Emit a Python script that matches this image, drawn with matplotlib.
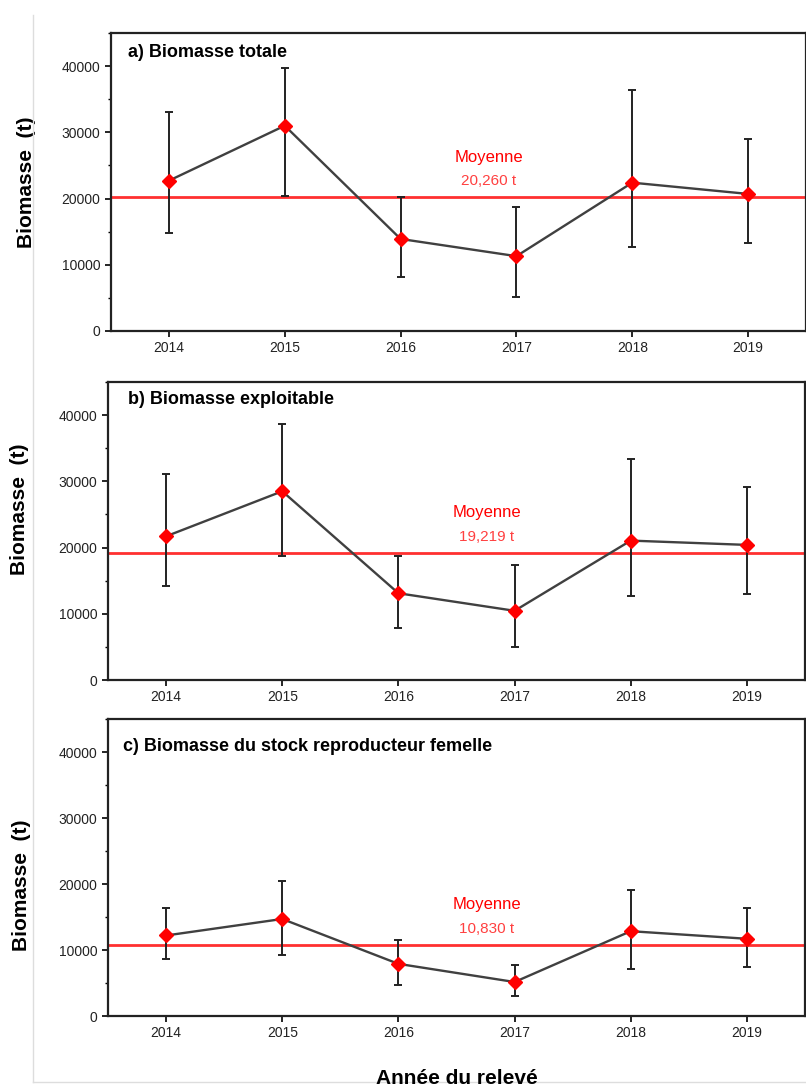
import matplotlib.pyplot as plt
from matplotlib.lines import Line2D
from matplotlib.ticker import MultipleLocator

plt.rcParams['font.family'] = ['Liberation Sans', 'DejaVu Sans']

years = [2014, 2015, 2016, 2017, 2018, 2019]

# a) Biomasse totale
tot_val = [22700, 31000, 13900, 11300, 22400, 20700]
tot_lo = [14800, 20400, 8150, 5100, 12700, 13300]
tot_hi = [33100, 39700, 20200, 18700, 36400, 29000]
tot_mean = 20260

# b) Biomasse exploitable
exp_val = [21700, 28500, 13100, 10450, 21050, 20400]
exp_lo = [14240, 18700, 7900, 5050, 12700, 13000]
exp_hi = [31170, 38700, 18800, 17300, 33400, 29100]
exp_mean = 19219

# c) Biomasse du stock reproducteur femelle
fem_val = [12200, 14700, 7900, 5150, 12850, 11700]
fem_lo = [8700, 9200, 4650, 3100, 7150, 7450]
fem_hi = [16400, 20400, 11500, 7700, 19150, 16400]
fem_mean = 10830

panels = [
    ("a) Biomasse totale", tot_val, tot_lo, tot_hi, tot_mean, "20,260 t"),
    ("b) Biomasse exploitable", exp_val, exp_lo, exp_hi, exp_mean, "19,219 t"),
    ("c) Biomasse du stock reproducteur femelle", fem_val, fem_lo, fem_hi, fem_mean, "10,830 t"),
]

W, H = 806, 1091
fig = plt.figure(figsize=(W / 100, H / 100), dpi=100)

# axes boxes in pixels: left, top, right, bottom
boxes = [(111, 33, 806, 331), (108, 382, 805, 680), (108, 719, 805, 1016)]
title_pos = [(0.0245, 0.933), (0.028, 0.94), (0.0215, 0.907)]
ylab_pos = [(-0.108, 0.5), (-0.114, 0.574), (-0.111, 0.44)]

for i, (title, val, lo, hi, mean, mtxt) in enumerate(panels):
    l, t, r, b = boxes[i]
    ax = fig.add_axes([l / W, 1 - b / H, (r - l) / W, (b - t) / H])

    yerr = [[v - a for v, a in zip(val, lo)], [c - v for v, c in zip(val, hi)]]
    ax.axhline(mean, color="#ff3030", lw=2, zorder=1)
    ax.errorbar(years, val, yerr=yerr, fmt="none", ecolor="#222222",
                elinewidth=1.4, capsize=3, capthick=1.4, zorder=2)
    ax.plot(years, val, color="#404040", lw=1.7, zorder=3)
    ax.plot(years, val, "D", color="red", markersize=7, zorder=4)

    ax.text(2016.76, mean + 6000, "Moyenne", color="red", fontsize=12,
            ha="center", va="center")
    ax.text(2016.76, mean + 2400, mtxt, color="#ff4040", fontsize=11,
            ha="center", va="center")

    ax.text(*title_pos[i], title, transform=ax.transAxes, fontsize=13,
            fontweight="bold", ha="left", va="center")

    ax.set_xlim(2013.5, 2019.5)
    ax.set_ylim(0, 45000)
    ax.set_xticks(years)
    ax.set_yticks([0, 10000, 20000, 30000, 40000])
    ax.yaxis.set_minor_locator(MultipleLocator(5000))
    ax.tick_params(axis="both", which="major", direction="out", length=4,
                   width=1.2, labelsize=10, labelcolor="#222222")
    ax.tick_params(axis="y", which="minor", direction="out", length=2.5, width=1)
    for sp in ax.spines.values():
        sp.set_linewidth(1.6)
        sp.set_color("#222222")

    ax.set_ylabel("Biomasse  (t)", fontsize=15, fontweight="bold")
    ax.yaxis.set_label_coords(*ylab_pos[i])

fig.text(457 / W, 1 - 1078 / H, "Année du relevé", fontsize=15,
         fontweight="bold", ha="center", va="center")

# light frame of the original figure
fig.add_artist(Line2D([33 / W, 33 / W], [1 - 15 / H, 1 - 1082 / H],
                      color="#dddddd", lw=1))
fig.add_artist(Line2D([33 / W, 1], [1 - 1082 / H, 1 - 1082 / H],
                      color="#dddddd", lw=1))

fig.savefig("out.png", dpi=100)
